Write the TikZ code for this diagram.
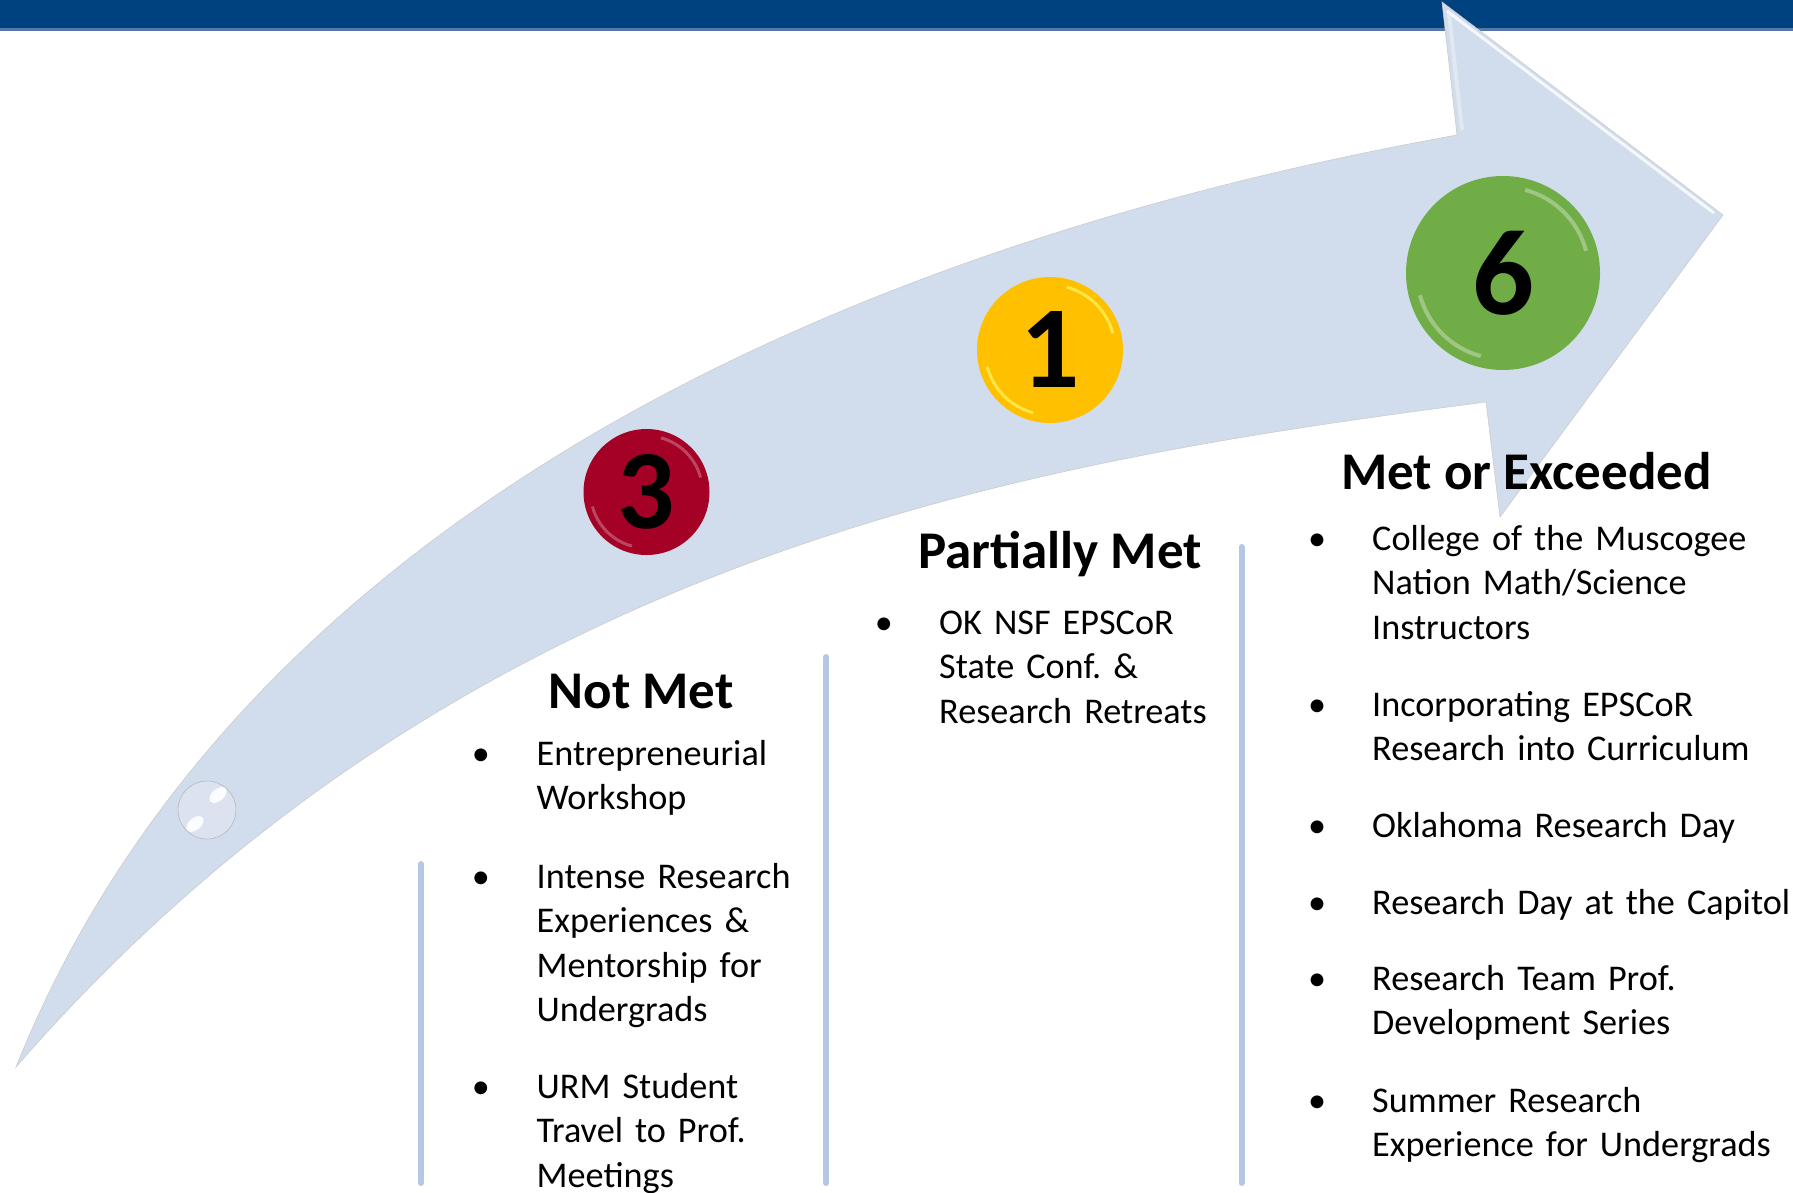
\documentclass[tikz,border=0pt]{standalone}
\usepackage{fontspec}
\setmainfont{Carlito}
\usepackage{tikz}
\usetikzlibrary{positioning}

\definecolor{barblue}{RGB}{0,66,128}
\definecolor{barline}{RGB}{86,120,168}
\definecolor{band}{RGB}{209,221,236}
\definecolor{sepblue}{RGB}{180,199,231}
\definecolor{bubble}{RGB}{220,226,240}
\definecolor{ballred}{RGB}{165,0,38}
\definecolor{ballyellow}{RGB}{255,192,0}
\definecolor{ballgreen}{RGB}{112,173,71}

\newcommand{\bodyfont}{\fontsize{36.2}{44.6}\selectfont}
\newcommand{\headfont}{\fontsize{53}{63}\selectfont\bfseries}
\frenchspacing

\begin{document}
\begin{tikzpicture}[x=1pt, y=-1pt,
  head/.style={anchor=base west, inner sep=0pt, font=\headfont},
  entry/.style={anchor=base west, inner sep=0pt, font=\bodyfont, text width=500pt, align=left},
  bul/.style={anchor=base, inner sep=0pt, font=\bodyfont},
  numball/.style={circle, inner sep=0pt},
  sepline/.style={line width=6pt, sepblue, line cap=round}]
\useasboundingbox (0,0) rectangle (1793,1192);
% balken oben
\fill[barblue] (0,0) rectangle (1793,28);
\fill[barline] (0,28) rectangle (1793,31);
% pfeil
\coordinate (tail) at (16,1067);
\coordinate (notchup) at (1457,135);
\coordinate (tipup) at (1442,2);
\coordinate (tip) at (1723,215);
\coordinate (tipdown) at (1500,517);
\coordinate (notchdown) at (1486,402);
\filldraw[fill=band, draw=black!20, line width=0.6pt]
  (tail) .. controls (216,567) and (757,261) .. (notchup)
  -- (tipup) -- (tip) -- (tipdown) -- (notchdown)
  .. controls (1036,460.5) and (466,549.5) .. (tail) -- cycle;
\draw[white, line width=3pt, opacity=.8] (1447,11) -- (1714,213);
\draw[white, line width=4pt, opacity=.35] (1449,14) -- (1462,130);
% blase
\node[circle, minimum size=58pt, inner sep=0pt, fill=bubble, draw=black!30, line width=0.5pt] (bubble) at (207,810) {};
\fill[white, opacity=.9, rotate around={40:(218,795)}] (218,795) ellipse (10 and 6);
\fill[white, opacity=.9, rotate around={40:(195,824)}] (195,824) ellipse (10 and 6);
% kreise
\node[numball, fill=ballred, minimum size=126pt, font=\fontsize{113}{113}\selectfont\bfseries] (three) at (646.5,492) {3};
\draw[ballred!40!white, line width=3pt, opacity=.45] (three) ++(-15:56) arc[start angle=-15, end angle=-75, radius=56];
\draw[ballred!40!white, line width=3pt, opacity=.45] (three) ++(-195:56) arc[start angle=-195, end angle=-255, radius=56];
\node[numball, fill=ballyellow, minimum size=146pt, font=\fontsize{117}{117}\selectfont\bfseries] (one) at (1050,350) {1};
\draw[yellow!60!white, line width=3pt, opacity=.7] (one) ++(-15:65) arc[start angle=-15, end angle=-75, radius=65];
\draw[yellow!60!white, line width=3pt, opacity=.7] (one) ++(-195:65) arc[start angle=-195, end angle=-255, radius=65];
\node[numball, fill=ballgreen, minimum size=194pt, font=\fontsize{122}{122}\selectfont\bfseries] (six) at (1503,273) {6};
\draw[ballgreen!40!white, line width=4pt, opacity=.55] (six) ++(-15:86) arc[start angle=-15, end angle=-75, radius=86];
\draw[ballgreen!40!white, line width=4pt, opacity=.55] (six) ++(-195:86) arc[start angle=-195, end angle=-255, radius=86];
% trennlinien
\coordinate (s1top) at (421,864);
\coordinate (s1bot) at (421,1183);
\coordinate (s2top) at (826,657);
\coordinate (s2bot) at (826,1183);
\coordinate (s3top) at (1241.5,547);
\coordinate (s3bot) at (1241.5,1183);
\draw[sepline] (s1top) -- (s1bot);
\draw[sepline] (s2top) -- (s2bot);
\draw[sepline] (s3top) -- (s3bot);
% ueberschriften
\node[head] (notmet) at (548.5,708) {Not Met};
\node[head] (partmet) at (918,568) {Partially Met};
\node[head] (metexc) at (1341,489) {Met or Exceeded};
% not met
\node[entry] (nm1) at (536.5,765) {Entrepreneurial\\Workshop};
\node[entry] (nm2) at (536.5,888) {Intense Research\\Experiences \&\\Mentorship for\\Undergrads};
\node[entry] (nm3) at (536.5,1098) {URM Student\\Travel to Prof.\\Meetings};
\node[bul] (nmb1) at ([xshift=-55.5pt]nm1.base west) {\textbullet};
\node[bul] (nmb2) at ([xshift=-55.5pt]nm2.base west) {\textbullet};
\node[bul] (nmb3) at ([xshift=-55.5pt]nm3.base west) {\textbullet};
% partially met
\node[entry] (pm1) at (939,634) {OK NSF EPSCoR\\State Conf. \&\\Research Retreats};
\node[bul] (pmb1) at ([xshift=-55pt]pm1.base west) {\textbullet};
% met or exceeded
\node[entry] (me1) at (1372,550) {College of the Muscogee\\Nation Math/Science\\Instructors};
\node[entry] (me2) at (1372,716) {Incorporating EPSCoR\\Research into Curriculum};
\node[entry] (me3) at (1372,837) {Oklahoma Research Day};
\node[entry] (me4) at (1372,914) {Research Day at the Capitol};
\node[entry] (me5) at (1372,990) {Research Team Prof.\\Development Series};
\node[entry] (me6) at (1372,1112) {Summer Research\\Experience for Undergrads};
\foreach \i in {1,...,6}
  \node[bul] (meb\i) at ([xshift=-55pt]me\i.base west) {\textbullet};
\end{tikzpicture}
\end{document}
